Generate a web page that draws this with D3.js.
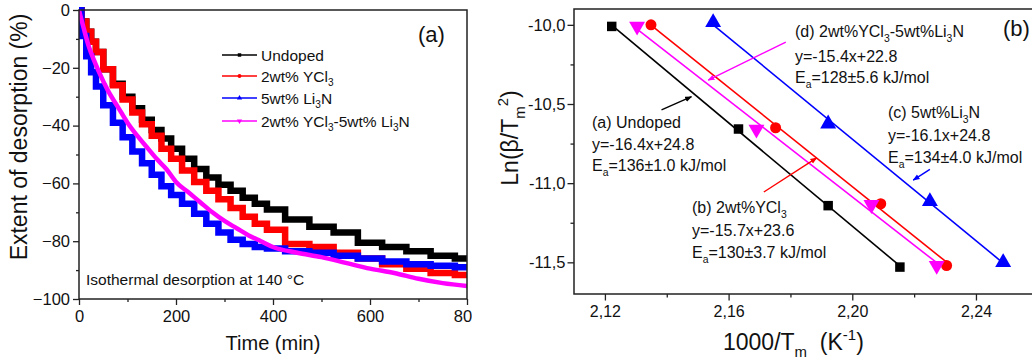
<!DOCTYPE html>
<html><head><meta charset="utf-8">
<script src="https://cdn.jsdelivr.net/npm/d3@7"></script>
<style>
body{margin:0;background:#fff}
svg{display:block}
text{font-family:Arial,"Liberation Sans",sans-serif;fill:#111}
</style></head>
<body><svg id="c" width="1032" height="363"></svg>
<script>
// ---------- Panel (a) data: extent of desorption (%) vs time (min) ----------
const timeMin = [0,10,20,30,40,60,80,100,120,140,160,180,200,225,250,275,300,325,350,375,400,450,500,550,600,650,700,750,800];
const undoped = [0,-4,-7.5,-11,-14.5,-20.5,-25.5,-30,-34,-38,-41.5,-44.5,-48,-51.5,-55,-58,-60.5,-62.5,-65,-67,-69,-72.5,-75,-77,-80.5,-82,-83.5,-85,-86];
const ycl3    = [0,-4,-7.5,-11,-14.5,-20.5,-26,-31,-35.5,-39.5,-43.5,-48,-51.5,-55.5,-59.5,-62.5,-65.5,-68.5,-71.5,-74,-76,-81,-82,-84,-86,-88,-89.5,-91,-91.7];
const li3n    = [0,-9,-16,-21.5,-26.5,-33,-39,-44,-49,-53,-57,-61,-64,-67,-70.5,-74,-77,-79.5,-81,-82,-82.5,-83.5,-84,-85,-86,-87,-88,-88.5,-89];
const dual    = [0,-6.5,-12.5,-17,-21,-28,-33.5,-39,-43.5,-47.5,-51.5,-55,-59.5,-63,-66.5,-70,-73,-75.5,-78,-80,-82,-84,-85.5,-87.5,-89.5,-91,-93,-94.5,-95.5];
const legendLabels = ["Undoped","2wt% YCl_{3}","5wt% Li_{3}N","2wt% YCl_{3}-5wt% Li_{3}N"];
const timeTicks = [0,200,400,600,800];
const timeMinor = [100,300,500,700];
const extentTicks = [0,-20,-40,-60,-80,-100];
const extentMinor = [-10,-30,-50,-70,-90];

// ---------- Panel (b) data: Kissinger plot ----------
const invT_undoped = [2.1222,2.1632,2.1922,2.2154];
const ln_undoped   = [-10.01,-10.658,-11.142,-11.53];
const invT_ycl3    = [2.1349,2.1752,2.2092,2.2305];
const ln_ycl3      = [-10.0,-10.65,-11.13,-11.52];
const invT_li3n    = [2.155,2.1922,2.2251,2.2488];
const ln_li3n      = [-9.985,-10.625,-11.115,-11.5];
const invT_dual    = [2.1304,2.169,2.2062,2.2273];
const ln_dual      = [-10.01,-10.66,-11.136,-11.52];
const invTTicks = [2.12,2.16,2.20,2.24];
const invTMinor = [2.14,2.18,2.22];
const lnTicks = [-11.5,-11.0,-10.5,-10.0];
const lnMinor = [-11.25,-10.75,-10.25];

const colors = ["#000000","#ff0000","#0000ff","#ff00ff"];

const svg = d3.select("#c");

function addRich(t, str, fs){
  const re = /([_^])\{([^}]*)\}|([^_^]+)/g;
  let m, shift = 0;
  while((m = re.exec(str))){
    if(m[3] !== undefined){
      t.append("tspan").attr("dy", -shift).attr("font-size", fs).text(m[3]);
      shift = 0;
    } else {
      const s = m[1] === "_" ? fs*0.32 : -fs*0.42;
      t.append("tspan").attr("dy", s - shift).attr("font-size", fs*0.65).text(m[2]);
      shift = s;
    }
  }
  return t;
}

function styleAxis(g, fs){
  g.select(".domain").remove();
  g.selectAll("line").attr("stroke","#222").attr("stroke-width",1.3);
  g.selectAll("text").attr("font-size",fs).attr("font-family","Arial, 'Liberation Sans', sans-serif").attr("fill","#111");
}

// ===================== Panel (a) =====================
const L = {x0:79, x1:467, y0:10, y1:299};
const xL = d3.scaleLinear().domain([0,800]).range([L.x0,L.x1]);
const yL = d3.scaleLinear().domain([-100,0]).range([L.y1,L.y0]);

const defs = svg.append("defs");
defs.append("clipPath").attr("id","clipA")
  .append("rect").attr("x",0).attr("y",0).attr("width",472).attr("height",363);
const gA = svg.append("g").attr("clip-path","url(#clipA)");

defs.append("clipPath").attr("id","plotA")
  .append("rect").attr("x",L.x0).attr("y",L.y0-3).attr("width",L.x1-L.x0).attr("height",L.y1-L.y0+3);

const seriesA = [undoped, ycl3, li3n, dual];
const gLines = gA.append("g").attr("clip-path","url(#plotA)");
seriesA.forEach((vals,i)=>{
  const pts = timeMin.map((t,j)=>[t,vals[j]]);
  const line = d3.line().x(d=>xL(d[0])).y(d=>yL(d[1]))
     .curve(i===3 ? d3.curveMonotoneX : d3.curveStep);
  gLines.append("path").attr("d",line(pts)).attr("fill","none")
    .attr("stroke",colors[i]).attr("stroke-width", i===3 ? 4.5 : 6.5)
    .attr("stroke-linejoin","miter");
});

// axes
const axBL = gA.append("g").attr("transform",`translate(0,${L.y1})`)
  .call(d3.axisBottom(xL).tickValues(timeTicks).tickSize(6).tickPadding(5).tickFormat(d3.format("d")));
styleAxis(axBL,16.5);
const axBLm = gA.append("g").attr("transform",`translate(0,${L.y1})`)
  .call(d3.axisBottom(xL).tickValues(timeMinor).tickSize(3).tickFormat(""));
styleAxis(axBLm,16);
const axLL = gA.append("g").attr("transform",`translate(${L.x0},0)`)
  .call(d3.axisLeft(yL).tickValues(extentTicks).tickSize(6).tickPadding(3).tickFormat(d3.format("d")));
styleAxis(axLL,16.5);
const axLLm = gA.append("g").attr("transform",`translate(${L.x0},0)`)
  .call(d3.axisLeft(yL).tickValues(extentMinor).tickSize(3).tickFormat(""));
styleAxis(axLLm,16);

gA.append("rect").attr("x",L.x0).attr("y",L.y0).attr("width",L.x1-L.x0).attr("height",L.y1-L.y0)
  .attr("fill","none").attr("stroke","#222").attr("stroke-width",1.5);

// titles
gA.append("text").attr("x",(L.x0+L.x1)/2).attr("y",350).attr("text-anchor","middle")
  .attr("font-size",20).text("Time (min)");
gA.append("text").attr("transform","translate(27,137) rotate(-90)").attr("text-anchor","middle")
  .attr("font-size",23).text("Extent of desorption (%)");
gA.append("text").attr("x",418).attr("y",42).attr("font-family","'Liberation Serif','Times New Roman',serif")
  .attr("font-size",22).text("(a)");
gA.append("text").attr("x",86).attr("y",285).attr("font-size",15.5).text("Isothermal desorption at 140 °C");

// legend
const legRows = [55,76,98,121];
const symA = [d3.symbolSquare, d3.symbolCircle, d3.symbolTriangle, d3.symbolTriangle];
legendLabels.forEach((lab,i)=>{
  const y = legRows[i];
  gA.append("line").attr("x1",222).attr("x2",257).attr("y1",y).attr("y2",y)
    .attr("stroke",colors[i]).attr("stroke-width",1.3);
  gA.append("path").attr("d",d3.symbol().type(symA[i]).size(12)())
    .attr("transform",`translate(239.5,${y}) rotate(${i===3?180:0})`).attr("fill",colors[i]);
  const t = gA.append("text").attr("x",261).attr("y",y+5.5);
  addRich(t, lab, 15.5);
});

// ===================== Panel (b) =====================
const R = {x0:574, y0:9, y1:294};
const xR = d3.scaleLinear().domain([2.11,2.26]).range([R.x0, R.x0+0.15*3092]);
const yR = d3.scaleLinear().domain([-11.7,-9.9]).range([R.y1,R.y0]);
const loc = d3.formatLocale({decimal:",",thousands:".",grouping:[3],currency:["",""],minus:"-"});

const axBR = svg.append("g").attr("transform",`translate(0,${R.y1})`)
  .call(d3.axisBottom(xR).tickValues(invTTicks).tickSize(6.5).tickPadding(5).tickFormat(loc.format(".2f")));
styleAxis(axBR,16);
const axBRm = svg.append("g").attr("transform",`translate(0,${R.y1})`)
  .call(d3.axisBottom(xR).tickValues(invTMinor).tickSize(3.5).tickFormat(""));
styleAxis(axBRm,16);
const axLR = svg.append("g").attr("transform",`translate(${R.x0},0)`)
  .call(d3.axisLeft(yR).tickValues(lnTicks).tickSize(6.5).tickPadding(2).tickFormat(loc.format(".1f")));
styleAxis(axLR,16.5);
const axLRm = svg.append("g").attr("transform",`translate(${R.x0},0)`)
  .call(d3.axisLeft(yR).tickValues(lnMinor).tickSize(3.5).tickFormat(""));
styleAxis(axLRm,16);

svg.append("path").attr("d",`M1040,${R.y0}H${R.x0}V${R.y1}H1040`).attr("fill","none")
  .attr("stroke","#222").attr("stroke-width",1.5);

const seriesB = [[invT_undoped,ln_undoped],[invT_ycl3,ln_ycl3],[invT_li3n,ln_li3n],[invT_dual,ln_dual]];
const symB = [d3.symbolSquare, d3.symbolCircle, d3.symbolTriangle, d3.symbolTriangle];
const symSize = [90,95,110,110];
seriesB.forEach(([xs,ys],i)=>{
  const pts = xs.map((x,j)=>[x,ys[j]]);
  const mx=d3.mean(xs), my=d3.mean(ys);
  const b=d3.sum(pts,p=>(p[0]-mx)*(p[1]-my))/d3.sum(pts,p=>(p[0]-mx)**2);
  const reg = x=>my+b*(x-mx);
  const ext = d3.extent(xs);
  svg.append("line").attr("x1",xR(ext[0])).attr("y1",yR(reg(ext[0])))
    .attr("x2",xR(ext[1])).attr("y2",yR(reg(ext[1])))
    .attr("stroke",colors[i]).attr("stroke-width",1.6);
});
seriesB.forEach(([xs,ys],i)=>{
  xs.forEach((x,j)=>{
    svg.append("path").attr("d",d3.symbol().type(symB[i]).size(symSize[i])())
      .attr("transform",`translate(${xR(x)},${yR(ys[j])}) rotate(${i===3?180:0})`)
      .attr("fill",colors[i]);
  });
});

// arrows (positions in data units)
colors.forEach((c,i)=>{
  defs.append("marker").attr("id","ah"+i).attr("viewBox","0 0 10 10").attr("refX",9).attr("refY",5)
    .attr("markerWidth",7).attr("markerHeight",7).attr("markerUnits","userSpaceOnUse").attr("orient","auto")
    .append("path").attr("d","M0,1L10,5L0,9Z").attr("fill",c);
});
const arrows = [
  {c:0, from:[2.1383,-10.537], to:[2.1480,-10.454]},
  {c:1, from:[2.1714,-11.056], to:[2.1885,-10.840]},
  {c:2, from:[2.2251,-10.913], to:[2.2197,-10.981]},
  {c:3, from:[2.1785,-10.109], to:[2.1534,-10.349]}
];
arrows.forEach(a=>{
  svg.append("line").attr("x1",xR(a.from[0])).attr("y1",yR(a.from[1]))
    .attr("x2",xR(a.to[0])).attr("y2",yR(a.to[1])).attr("stroke",colors[a.c])
    .attr("stroke-width",1.4).attr("marker-end",`url(#ah${a.c})`);
});

// annotation texts
const notes = [
  {x:592, y:[128,150,171], lines:["(a) Undoped","y=-16.4x+24.8","E_{a}=136±1.0 kJ/mol"]},
  {x:692, y:[213,236,258], lines:["(b) 2wt%YCl_{3}","y=-15.7x+23.6","E_{a}=130±3.7 kJ/mol"]},
  {x:888, y:[118,141,163], lines:["(c) 5wt%Li_{3}N","y=-16.1x+24.8","E_{a}=134±4.0 kJ/mol"]},
  {x:795, y:[37,62,83], lines:["(d) 2wt%YCl_{3}-5wt%Li_{3}N","y=-15.4x+22.8","E_{a}=128±5.6 kJ/mol"]}
];
notes.forEach(n=>{
  n.lines.forEach((s,k)=>{
    const t = svg.append("text").attr("x",n.x).attr("y",n.y[k]);
    addRich(t,s,16);
  });
});
svg.append("text").attr("x",1003).attr("y",36).attr("font-family","'Liberation Serif','Times New Roman',serif")
  .attr("font-size",22).text("(b)");

// axis titles
const xt = svg.append("text").attr("x",723).attr("y",350).attr("xml:space","preserve");
addRich(xt,"1000/T_{m}  (K^{-1})",23);
const yt = svg.append("text").attr("transform","translate(518,138) rotate(-90)").attr("text-anchor","middle");
addRich(yt,"Ln(β/T_{m}^{2})",23);
</script>
</body></html>
